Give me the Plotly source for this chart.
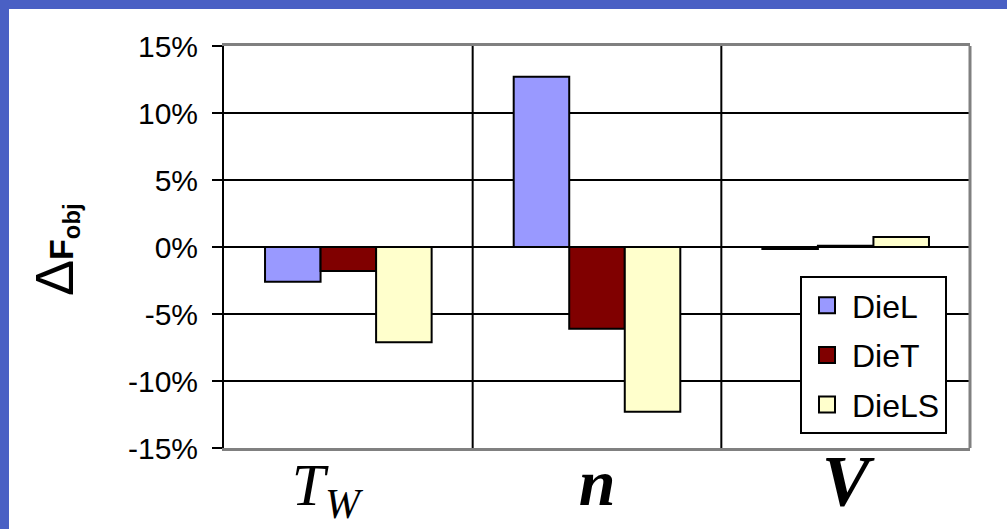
import plotly.graph_objects as go

categories = ["Tw", "n", "V"]
cat_labels = [
    "<span style='font-size:60px'><i>T</i><sub><i>W</i></sub></span>&nbsp;&nbsp;&nbsp;&nbsp;",
    "<span style='font-size:66px'><b><i>n</i></b></span>",
    "<span style='font-size:72px'><b><i>V</i></b></span>",
]
series_names = ["DieL", "DieT", "DieLS"]
die_l = [-2.6, 12.7, -0.15]
die_t = [-1.8, -6.1, 0.1]
die_ls = [-7.1, -12.3, 0.75]
series_values = [die_l, die_t, die_ls]
colors = ["#9999ff", "#800000", "#ffffcc"]
y_ticks = [15, 10, 5, 0, -5, -10, -15]
y_ticklabels = ["15%", "10%", "5%", "0%", "-5%", "-10%", "-15%"]

W, H = 1007, 529
L, R, T, B = 224, 37, 46, 81
pw, ph = W - L - R, H - T - B

fig = go.Figure()
xpos = list(range(len(categories)))
for name, vals, col in zip(series_names, series_values, colors):
    fig.add_trace(go.Bar(
        x=xpos, y=vals, name=name, legendgroup=name, showlegend=False,
        marker=dict(color=col, line=dict(color="black", width=2)),
    ))
# legend entries with larger square swatches
for name, col in zip(series_names, colors):
    fig.add_trace(go.Scatter(
        x=[None], y=[None], mode="markers", name=name, legendgroup=name,
        marker=dict(symbol="square", size=20, color=col, line=dict(color="black", width=2)),
    ))

shapes = []
# blue frame
shapes.append(dict(type="rect", xref="paper", yref="paper",
                   x0=(0 - L) / pw - 0.01, x1=(9 - L) / pw, y0=(H - B) / ph + 0.01, y1=-B / ph - 0.01,
                   fillcolor="#4a60c4", line=dict(width=0), layer="below"))
shapes.append(dict(type="rect", xref="paper", yref="paper",
                   x0=(0 - L) / pw - 0.01, x1=(W - L) / pw + 0.01, y0=(H - 9 - B) / ph, y1=(H - B) / ph + 0.01,
                   fillcolor="#4a60c4", line=dict(width=0), layer="below"))
# category separators
for xv in [0.5, 1.5]:
    shapes.append(dict(type="line", xref="x", yref="paper", x0=xv, x1=xv, y0=0, y1=1,
                       line=dict(color="black", width=2), layer="below"))
# right border
shapes.append(dict(type="line", xref="paper", yref="paper", x0=1, x1=1, y0=0, y1=1,
                   line=dict(color="#808080", width=3)))

fig.update_layout(
    width=W, height=H,
    margin=dict(l=L, r=R, t=T, b=B),
    paper_bgcolor="white", plot_bgcolor="white",
    barmode="group", bargap=0.33, bargroupgap=0,
    showlegend=True,
    legend=dict(x=(800 - L) / pw, y=(H - 276 - B) / ph, xanchor="left", yanchor="top",
                bordercolor="black", borderwidth=2, bgcolor="white",
                font=dict(family="Liberation Sans", size=32, color="black"),
                tracegroupgap=5, traceorder="grouped", itemwidth=40),
    shapes=shapes,
    xaxis=dict(range=[-0.5, 2.5], tickvals=xpos, ticktext=cat_labels,
               tickfont=dict(family="Liberation Serif", size=45, color="black"),
               showgrid=False, zeroline=False, showline=True, linecolor="#808080",
               linewidth=3, mirror=True, ticks="", automargin=False),
    yaxis=dict(range=[-15, 15], tickvals=y_ticks, ticktext=y_ticklabels,
               tickfont=dict(family="Liberation Sans", size=30, color="black"),
               showgrid=True, gridcolor="black", gridwidth=2,
               zeroline=True, zerolinecolor="black", zerolinewidth=2,
               showline=True, linecolor="black", linewidth=2,
               ticks="outside", ticklen=10, tickcolor="black", tickwidth=2,
               ticklabelstandoff=8, automargin=False),
    annotations=[dict(
        text="<span style='font-size:54px'>Δ</span><b>F<sub>obj</sub></b>",
        xref="paper", yref="paper", x=(54 - L) / pw, y=(448 - 250) / ph, showarrow=False,
        textangle=-90, font=dict(family="Liberation Sans", size=34, color="black"),
        xanchor="center", yanchor="middle")],
)

fig.write_html("out.html", config={"displayModeBar": False},
               post_script="document.body.style.margin='0';document.body.style.overflow='hidden';")
